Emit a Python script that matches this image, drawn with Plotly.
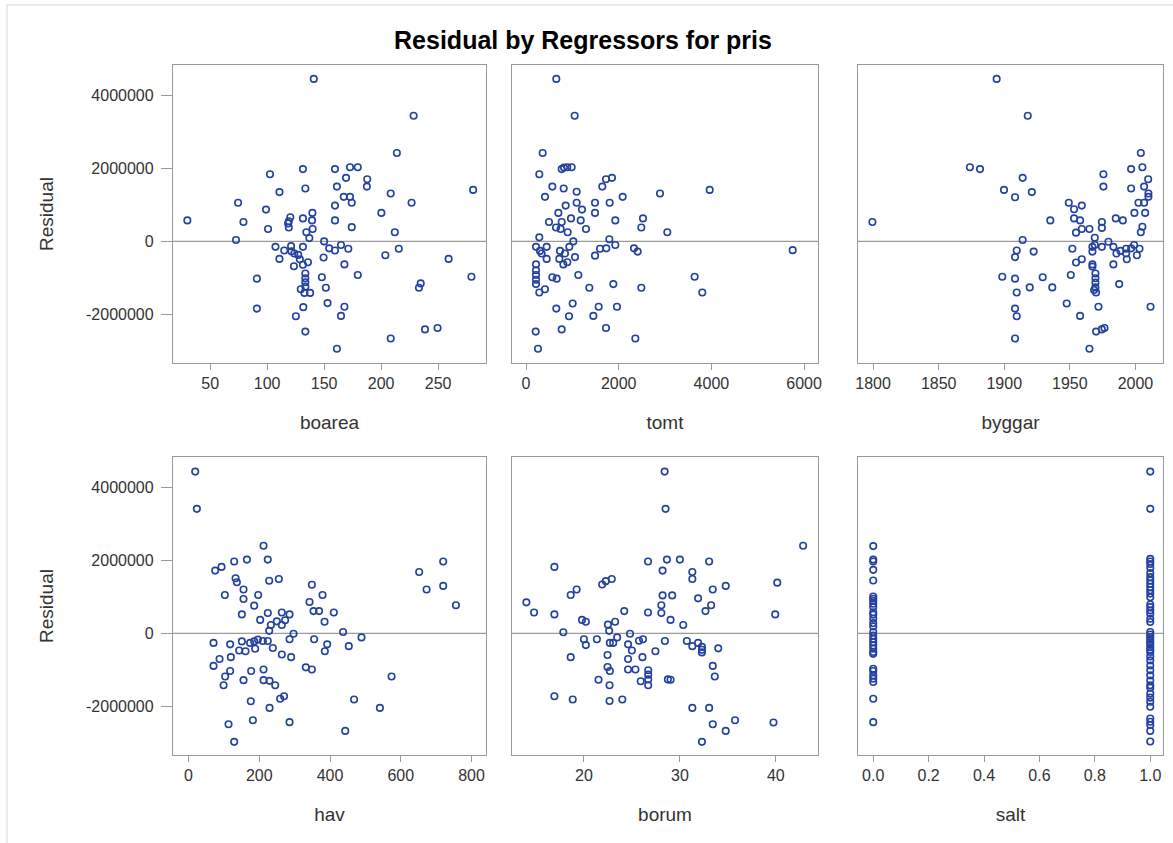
import plotly.graph_objects as go

# ---------------- data ----------------
boarea_x = [140.9, 30, 74.5, 79.2, 72.7, 102.5, 110.8, 99, 100.8, 91, 91, 131.4, 133.5, 139.7, 131.4,
            139.4, 120.3, 119, 118.4, 119, 139.9, 134.4, 137, 107.3, 115, 121, 121.3, 123.8, 127.3,
            131.4, 110.8, 128.7, 135.8, 123.5, 131.4, 133.5, 133.5, 133.5, 133.5, 129.5, 132.7, 137.7,
            131.7, 125.2, 133.5,
            228.5, 213.8, 159.5, 172.7, 179.5, 169.2, 187.8, 187.5, 161.2, 167.2, 172.7, 174.2, 208.4,
            226.7, 280.7, 159.5, 200.2, 159.5, 174.2, 212, 150, 154.4, 159.5, 164.8, 171.2, 149.5,
            167.8, 203.7, 215.5, 259.2, 279.2, 179.5, 148, 151.5, 234.7, 233.2, 153, 167.8, 164.8,
            208.4, 238.5, 249.5, 161.2]
boarea_res = [4.45, 0.575, 1.06, 0.53, 0.04, 1.84, 1.35, 0.87, 0.34, -1.02, -1.84, 1.98, 1.45, 0.78, 0.63,
              0.575, 0.66, 0.55, 0.49, 0.38, 0.34, 0.25, 0.09, -0.15, -0.25, -0.13, -0.27, -0.33, -0.37,
              -0.15, -0.48, -0.49, -0.57, -0.68, -0.64, -0.88, -1.01, -1.12, -1.24, -1.31, -1.41, -1.41,
              -1.80, -2.05, -2.47,
              3.44, 2.42, 1.98, 2.03, 2.03, 1.74, 1.70, 1.50, 1.50, 1.22, 1.22, 1.06, 1.31,
              1.06, 1.41, 0.98, 0.78, 0.575, 0.39, 0.25, 0.0, -0.19, -0.25, -0.10, -0.20, -0.44,
              -0.63, -0.38, -0.20, -0.48, -0.97, -0.92, -0.98, -1.27, -1.15, -1.27, -1.69, -1.79, -2.04,
              -2.66, -2.41, -2.37, -2.94]

tomt_x = [654, 1050, 360, 287, 770, 820, 892, 985, 568, 813, 410, 1093, 1646, 1726, 1855, 2086, 2891,
          856, 1093, 1208, 1489, 1805, 698, 1489, 971, 1180, 496, 770, 647, 748, 1294, 1927, 2524, 2488,
          899, 287, 1021, 1798, 216, 302, 446, 338, 446, 734, 935, 841, 1057, 719, 892, 806, 1597, 1733,
          1927, 1489, 2330, 2409, 216, 216, 216, 216, 216, 287, 410, 568, 662, 1129, 1366, 1884, 2488,
          654, 1007, 928, 1453, 1568, 1963, 770, 1726, 2359, 209, 259, 3049,
          3963, 5754, 3639, 3804]
tomt_res = [4.45, 3.44, 2.42, 1.84, 1.98, 2.02, 2.03, 2.03, 1.50, 1.45, 1.22, 1.36, 1.50, 1.70, 1.74, 1.22, 1.31,
            0.98, 1.06, 0.87, 1.06, 1.06, 0.78, 0.78, 0.63, 0.575, 0.53, 0.53, 0.38, 0.34, 0.34, 0.575, 0.63, 0.38,
            0.25, 0.11, 0.0, 0.06, -0.15, -0.26, -0.15, -0.33, -0.48, -0.26, -0.15, -0.33, -0.43, -0.48, -0.57, -0.63, -0.20, -0.19,
            -0.10, -0.39, -0.19, -0.28, -0.63, -0.79, -0.92, -1.05, -1.17, -1.40, -1.31, -0.98, -1.02, -0.92, -1.27, -1.17, -1.27,
            -1.84, -1.70, -2.05, -2.04, -1.79, -1.79, -2.41, -2.37, -2.66, -2.47, -2.94, 0.25,
            1.41, -0.24, -0.97, -1.40]

byggar_x = [1894.2, 1799.5, 1873.8, 1881.5, 1898.5,
            1917.9, 1914, 1899.8, 1908.2, 1921, 1935.1, 1914, 1909.5, 1908.2, 1922.4, 1908.2, 1909.5,
            1919.4, 1929.3, 1936.6, 1908.2, 1909.5, 1908.2, 1949.2, 1953.2, 1959.1, 1953.2, 1957.8,
            1954.7, 1959.1, 1964.9, 1975.6, 1975.6, 1974.4, 1974.4, 1969, 1951.9, 1954.7, 1959.1,
            1950.7, 1947.6, 1957.8, 1964.9, 1967.2, 1967.2, 1969, 1974.4, 1979.4, 1983.2, 1985.5,
            1983.2, 1987.6, 1967.2, 1967.2, 1969.5, 1969.5, 1969.5, 1969.5, 1968.5, 1970, 1971.8,
            1970, 1974.4, 1976.4, 1985, 1990.4, 1988.6, 1992.9, 1992.9, 1993.4, 1996.7, 1999,
            2001.1, 2003.1, 1996.7, 1996.7, 2004.1, 2005.3, 2006.6, 2009.7, 2009.9, 2009.9, 2002.3,
            2006.6, 1999.2, 2007.4, 2005.3, 2004.1, 2011.5]
byggar_res = [4.45, 0.53, 2.03, 1.98, -0.97,
              3.44, 1.74, 1.41, 1.21, 1.35, 0.575, 0.04, -0.25, -0.43, -0.28, -1.02, -1.40,
              -1.26, -0.98, -1.26, -1.84, -2.05, -2.66, 1.06, 0.88, 0.98, 0.63, 0.575,
              0.24, 0.34, 0.34, 1.84, 1.50, 0.53, 0.37, 0.10, -0.20, -0.58, -0.49,
              -0.92, -1.70, -2.04, -2.94, -0.15, -0.28, -0.10, -0.15, -0.01, -0.15, -0.33,
              -0.63, -1.17, -0.63, -0.69, -0.88, -1.01, -1.13, -1.26, -1.33, -1.40, -1.79,
              -2.47, -2.41, -2.37, 0.63, 0.575, -0.26, -0.20, -0.33, -0.49, -0.19, -0.10,
              -0.38, -0.20, 1.45, 1.98, 2.42, 2.03, 1.50, 1.70, 1.31, 1.22, 1.06,
              1.06, 0.78, 0.78, 0.40, 0.25, -1.79]

hav_x = [18.8, 23.5, 212, 75.3, 93.2, 129, 165, 224, 133, 136.6, 155.4, 155.4, 102.6, 196.8, 228, 255.3,
         185.5, 150.7, 202.5, 224, 263.7, 285.5, 249.6, 273, 232.7, 263.7, 228, 296.8, 285.5, 70.6, 117.6,
         150.7, 174, 185.5, 196, 210, 224, 143, 161, 188.3, 238.3, 263.7, 290, 87.6, 119.6, 70.6, 117.6,
         103.5, 99, 155.4, 177, 212, 212, 229, 245, 331.6, 348.6, 348.6, 342, 353.3, 355, 176, 229, 259,
         270, 113, 181.8, 285.5, 129,
         378.8, 369, 410.7, 384.5, 437, 489, 392, 385.3, 453, 574, 468, 541, 443, 652, 720, 673, 720, 756]
hav_res = [4.43, 3.41, 2.40, 1.72, 1.82, 1.97, 2.02, 2.02, 1.51, 1.40, 1.20, 0.94, 1.05, 1.05, 1.44, 1.49,
           0.76, 0.52, 0.37, 0.56, 0.57, 0.52, 0.33, 0.36, 0.23, 0.23, 0.07, -0.01, -0.16, -0.26, -0.30,
           -0.22, -0.26, -0.22, -0.17, -0.21, -0.21, -0.47, -0.49, -0.42, -0.40, -0.58, -0.65, -0.70, -0.65, -0.89, -1.03,
           -1.18, -1.42, -1.28, -1.03, -0.99, -1.28, -1.30, -1.42, -0.93, -0.99, 1.33, 0.86, 0.61, -0.16, -1.86, -2.04, -1.79,
           -1.72, -2.49, -2.38, -2.43, -2.97,
           1.05, 0.61, 0.57, 0.32, 0.04, -0.11, -0.30, -0.49, -0.35, -1.18, -1.81, -2.04, -2.67, 1.68, 1.97, 1.20, 1.30, 0.77]

borum_x = [28.41, 28.51, 16.92, 26.68, 28.65, 28.2, 21.9, 22.28, 22.9, 19.24, 18.62, 14.0, 14.8, 16.92, 19.8,
           20.2, 22.5, 23.25, 24.2, 26.68, 28.07, 28.07, 28.2, 17.85, 22.63, 20.0, 20.2, 21.35, 22.7, 23.05,
           23.46, 24.8, 24.6, 25.74, 26.16, 25.0, 24.6, 26.1, 27.45, 28.44, 18.62, 22.46, 22.46, 22.7, 24.6,
           25.37, 26.7, 26.7, 26.7, 26.7, 25.92, 28.75, 21.52, 22.67, 16.92, 18.83, 22.67, 24.0,
           42.85, 30.0, 33.05, 31.3, 31.3, 33.43, 34.78, 40.15, 29.2, 31.9, 33.26, 32.67, 29.03, 30.35, 39.94,
           30.73, 31.3, 31.9, 32.3, 32.3, 32.3, 34.0, 33.43, 33.64, 29.03, 31.3, 33.05, 33.43, 34.78, 35.75,
           39.76, 32.3]
borum_res = [4.43, 3.41, 1.82, 1.97, 2.02, 1.72, 1.34, 1.43, 1.49, 1.20, 1.05, 0.85, 0.57, 0.52, 0.37,
             0.32, 0.24, 0.32, 0.61, 0.57, 0.77, 0.56, 1.04, 0.03, 0.07, -0.16, -0.32, -0.16, -0.26, -0.26,
             -0.11, -0.01, -0.30, -0.20, -0.16, -0.47, -0.70, -0.65, -0.49, -0.21, -0.65, -0.59, -0.92, -1.03, -0.99,
             -0.99, -1.01, -1.13, -1.26, -1.42, -1.31, -1.26, -1.27, -1.42, -1.72, -1.81, -1.85, -1.81,
             2.40, 2.02, 1.97, 1.68, 1.49, 1.20, 1.30, 1.39, 1.04, 0.96, 0.77, 0.61, 0.37, 0.23, 0.52,
             -0.21, -0.35, -0.26, -0.37, -0.45, -0.52, -0.41, -0.89, -1.18, -1.27, -2.04, -2.04, -2.49, -2.67, -2.38,
             -2.44, -2.97]

salt0_res = [2.39, 2.02, 1.97, 1.74, 1.45, 1.01, 0.95, 0.89, 0.81, 0.72, 0.58, 0.51, 0.40, 0.28, 0.19, 0.04,
             -0.06, -0.15, -0.24, -0.33, -0.42, -0.51, -0.56, -0.97, -1.03, -1.15, -1.24, -1.33, -1.79, -2.43]
salt1_res = [4.43, 3.41, 2.04, 1.97, 1.90, 1.79, 1.65, 1.54, 1.45, 1.36, 1.27, 1.18, 1.09, 0.99, 0.79, 0.72,
             0.63, 0.54, 0.40, 0.31, 0.04, -0.03, -0.10, -0.17, -0.24, -0.30, -0.38, -0.45, -0.51, -0.63, -0.74,
             -0.88, -1.01, -1.15, -1.29, -1.42, -1.49, -1.65, -1.76, -1.87, -2.01, -2.33, -2.42, -2.51, -2.67, -2.96]
salt_x = [0.0] * len(salt0_res) + [1.0] * len(salt1_res)
salt_res = salt0_res + salt1_res

RES_SCALE = 1e6  # residuals above are in millions
y_tick_vals = [4000000, 2000000, 0, -2000000]
y_tick_text = ["4000000", "2000000", "0", "-2000000"]

panels = [
    ("boarea", boarea_x, boarea_res, [17.4, 292], [50, 100, 150, 200, 250], None),
    ("tomt", tomt_x, tomt_res, [-302, 6300], [0, 2000, 4000, 6000], None),
    ("byggar", byggar_x, byggar_res, [1788.5, 2021], [1800, 1850, 1900, 1950, 2000], None),
    ("hav", hav_x, hav_res, [-44, 841], [0, 200, 400, 600, 800], None),
    ("borum", borum_x, borum_res, [12.5, 44.4], [20, 30, 40], None),
    ("salt", salt_x, salt_res, [-0.055, 1.046], [0.0, 0.2, 0.4, 0.6, 0.8, 1.0], ".1f"),
]

# ---------------- layout geometry ----------------
W, H = 1173, 843
ML, MR, MT, MB = 173, 10, 65, 88
PW, PH = W - ML - MR, H - MT - MB


def px2x(px):
    return (px - ML) / PW


def py2y(py):
    return (H - MB - py) / PH


col_px = [(173, 486), (512, 818), (858, 1163)]
row_py = [(65, 363), (457, 755)]

BLUE = "#2342A0"
GRAY = "#9A9A9A"
FONT = "Liberation Sans, Arial, sans-serif"
TXT = "#333333"

fig = go.Figure()
shapes = []
for i, (name, xs, rs, xr, xt, fmt) in enumerate(panels):
    r, c = divmod(i, 3)
    n = i + 1
    xa = "x" if n == 1 else f"x{n}"
    ya = "y" if n == 1 else f"y{n}"
    fig.add_trace(go.Scatter(
        x=xs, y=[v * RES_SCALE for v in rs], mode="markers",
        marker=dict(symbol="circle-open", size=6.5, color=BLUE, line=dict(width=1.6, color=BLUE)),
        xaxis=xa, yaxis=ya, showlegend=False, hoverinfo="x+y"))
    xkey = "xaxis" if n == 1 else f"xaxis{n}"
    ykey = "yaxis" if n == 1 else f"yaxis{n}"
    x0, x1 = col_px[c]
    y0, y1 = row_py[r]
    fig.update_layout({
        xkey: dict(domain=[px2x(x0), px2x(x1)], range=xr, anchor=ya, tickvals=xt,
                   tickformat=fmt if fmt else "d",
                   showgrid=False, zeroline=False, showline=True, mirror=True, linecolor=GRAY,
                   linewidth=1.3, ticks="outside", ticklen=6, tickcolor=GRAY, tickwidth=1.3,
                   tickfont=dict(family=FONT, size=16, color=TXT),
                   title=dict(text=name, font=dict(family=FONT, size=19, color=TXT), standoff=24)),
        ykey: dict(domain=[py2y(y1), py2y(y0)], range=[-3.33e6, 4.83e6], anchor=xa,
                   tickvals=y_tick_vals, ticktext=y_tick_text,
                   showticklabels=(c == 0), ticks="outside" if c == 0 else "",
                   ticklen=11, tickcolor=GRAY, tickwidth=1.3, ticklabelstandoff=4,
                   showgrid=False, zeroline=False, showline=True, mirror=True, linecolor=GRAY, linewidth=1.3,
                   tickfont=dict(family=FONT, size=16, color=TXT),
                   title=dict(text="Residual" if c == 0 else "", font=dict(family=FONT, size=19, color=TXT),
                              standoff=27)),
    })
    shapes.append(dict(type="line", xref=f"{xa} domain", yref=ya, x0=0, x1=1, y0=0, y1=0,
                       line=dict(color=GRAY, width=1.3), layer="below"))

# outer light frame
shapes.append(dict(type="rect", xref="paper", yref="paper", x0=px2x(7), x1=px2x(1190),
                   y0=py2y(860), y1=py2y(5), line=dict(color="#D9D9D9", width=1), layer="below"))

fig.update_layout(
    width=W, height=H, margin=dict(l=ML, r=MR, t=MT, b=MB, autoexpand=False),
    paper_bgcolor="white", plot_bgcolor="white", shapes=shapes,
    title=dict(text="<b>Residual by Regressors for pris</b>", x=px2x(583), xanchor="center",
               y=1 - 40 / H, yanchor="middle", xref="paper",
               font=dict(family=FONT, size=25, color="black")),
)

fig.write_html("out.html")
